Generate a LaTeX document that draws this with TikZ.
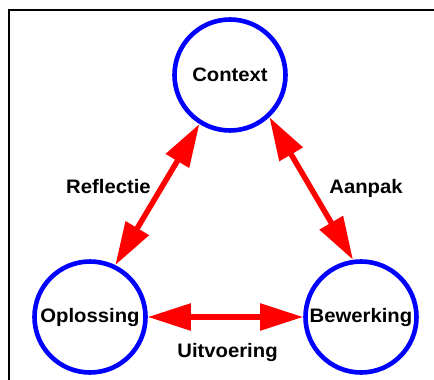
\documentclass[tikz,border=0pt]{standalone}
\usepackage{fontspec}
\setmainfont{Liberation Sans}
\newfontfamily\lblfont{Liberation Sans}[FakeStretch=1.04]
\usetikzlibrary{arrows.meta}
\begin{document}
\begin{tikzpicture}[x=1pt,y=-1pt,
  txt/.style={font=\lblfont\bfseries\fontsize{19.5}{21}\selectfont},
  state/.style={circle, draw={rgb,255:red,0;green,0;blue,255}, line width=4.6pt, minimum size=111pt, inner sep=0pt, txt},
  link/.style={draw={rgb,255:red,255;green,0;blue,0}, line width=5.5pt,
    {Triangle[length=43pt,width=26pt]}-{Triangle[length=43pt,width=26pt]}},
  lbl/.style={txt, inner sep=0pt, anchor=base}]
\useasboundingbox (0,0) rectangle (434,380);
\draw[line width=2.4pt] (9,381) -- (9,10) -- (435,10);
\node[state] (ctx) at (230,75) {Context};
\node[state] (opl) at (90,317) {Oplossing};
\node[state] (bew) at (361,317) {Bewerking};
\draw[link] (ctx.-122) -- (opl.64);
\draw[link] (ctx.-47) -- (bew.98);
\draw[link] (opl.east) -- (bew.west);
\node[lbl] (refl) at (108.5,193.3) {Reflectie};
\node[lbl] (aanp) at (366,193.3) {Aanpak};
\node[lbl] (uitv) at (227.5,357.3) {Uitvoering};
\end{tikzpicture}
\end{document}
